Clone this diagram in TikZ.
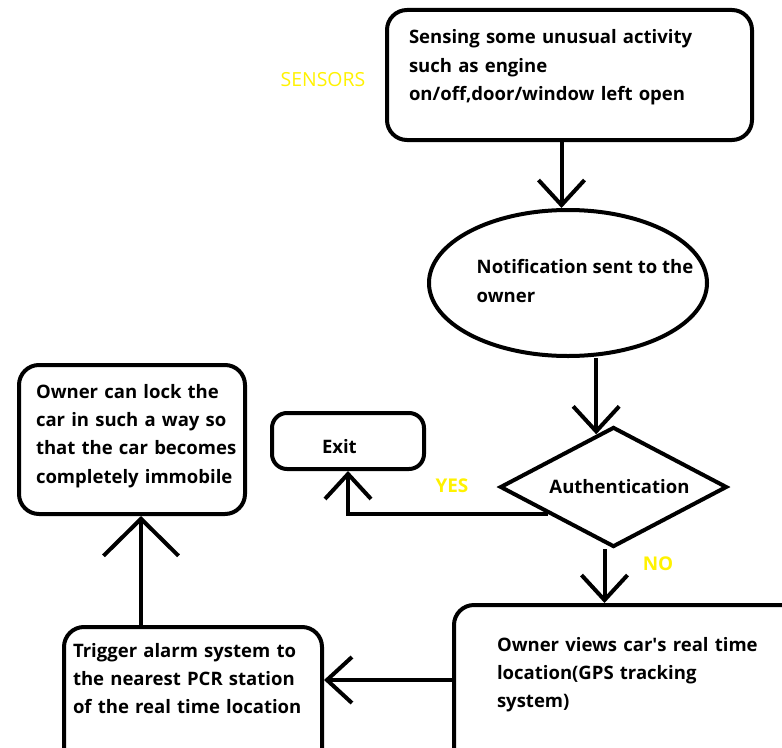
\documentclass[tikz,border=0pt]{standalone}
\usepackage{fontspec}
\setmainfont{Open Sans}
\usetikzlibrary{shapes.geometric,arrows.meta,calc}
\definecolor{paintyellow}{RGB}{255,242,0}

\begin{document}
\begin{tikzpicture}[x=1bp, y=-1bp,
    card/.style={draw, line width=4bp, rounded corners=20bp, anchor=north west,
                 align=left, inner ysep=0pt, font=\bfseries\fontsize{18.6}{28.5}\selectfont},
    oval/.style={draw, ellipse, line width=4bp, inner sep=0pt,
                 minimum width=278bp, minimum height=146bp},
    decision/.style={draw, diamond, line width=4bp, inner sep=0pt, aspect=1.9,
                 minimum width=227bp, minimum height=120bp,
                 font=\bfseries\fontsize{18.6}{20}\selectfont},
    flow/.style={line width=4bp, -{Straight Barb[length=25bp,width=46bp]}},
    bigflow/.style={flow, -{Straight Barb[length=37bp,width=75bp]}},
    tag/.style={text=paintyellow, font=\bfseries\fontsize{19}{21}\selectfont}]

\useasboundingbox (0,0) rectangle (782,748);
\fill[white] (0,0) rectangle (782,748);

% boxes
\node[card, inner xsep=22bp, text width=321bp, text height=34bp, text depth=96bp] (sense) at (385,8)
    {Sensing some unusual activity\\such as engine\\on/off,door/window left open};
\node[oval, label={[align=left, xshift=17bp, yshift=2bp,
        font=\bfseries\fontsize{18.6}{28.5}\selectfont]center:{Notification sent to the\\owner}}] (notify) at (568,283) {};
\node[decision, label={[xshift=6bp, font=\bfseries\fontsize{18.6}{20}\selectfont]center:Authentication}] (auth) at (613.5,487) {};
\node[card, rounded corners=15bp, inner xsep=50bp, text width=52bp, text height=40bp, text depth=16bp] (exit) at (270,411) {Exit};
\node[card, inner xsep=17bp, text width=192bp, text height=33bp, text depth=116bp] (lock) at (17,363)
    {Owner can lock the\\car in such a way so\\\mbox{that the car becomes}\\\mbox{completely immobile}};
\node[card, inner xsep=43bp, text width=302bp, text height=46bp, text depth=151bp] (track) at (452,603)
    {Owner views car\textquotesingle s real time\\location(GPS tracking\\system)};
\node[card, inner xsep=9bp, text width=240bp, text height=30bp, text depth=135bp] (alarm) at (62,625)
    {Trigger alarm system to\\the nearest PCR station\\of the real time location};

% yellow texts
\node[tag, font=\fontsize{19.5}{21}\selectfont] (sensors) at (323,80) {SENSORS};
\node[tag] (yes) at (452,486) {YES};
\node[tag] (no) at (658,564) {NO};

% connectors
\coordinate (authin) at ($(auth.north)!0.15!(auth.west)$);
\coordinate (yesout) at ($(auth.west)!0.43!(auth.south)$);
\draw[flow] ([xshift=-8bp]sense.south) -- ([xshift=-8bp]sense.south |- notify.north);
\draw[flow] (authin |- notify.south) -- (authin);
\draw[flow] (yesout) -| (exit.south);
\draw[flow] ([xshift=-9bp]auth.south) -- ([xshift=-9bp]auth.south |- track.north);
\draw[flow] ([yshift=-77bp]track.north west) -- ([yshift=-77bp]track.north west -| alarm.east);
\draw[bigflow] ([xshift=79bp]alarm.north west) -- ([xshift=79bp]alarm.north west |- lock.south);

\end{tikzpicture}
\end{document}
